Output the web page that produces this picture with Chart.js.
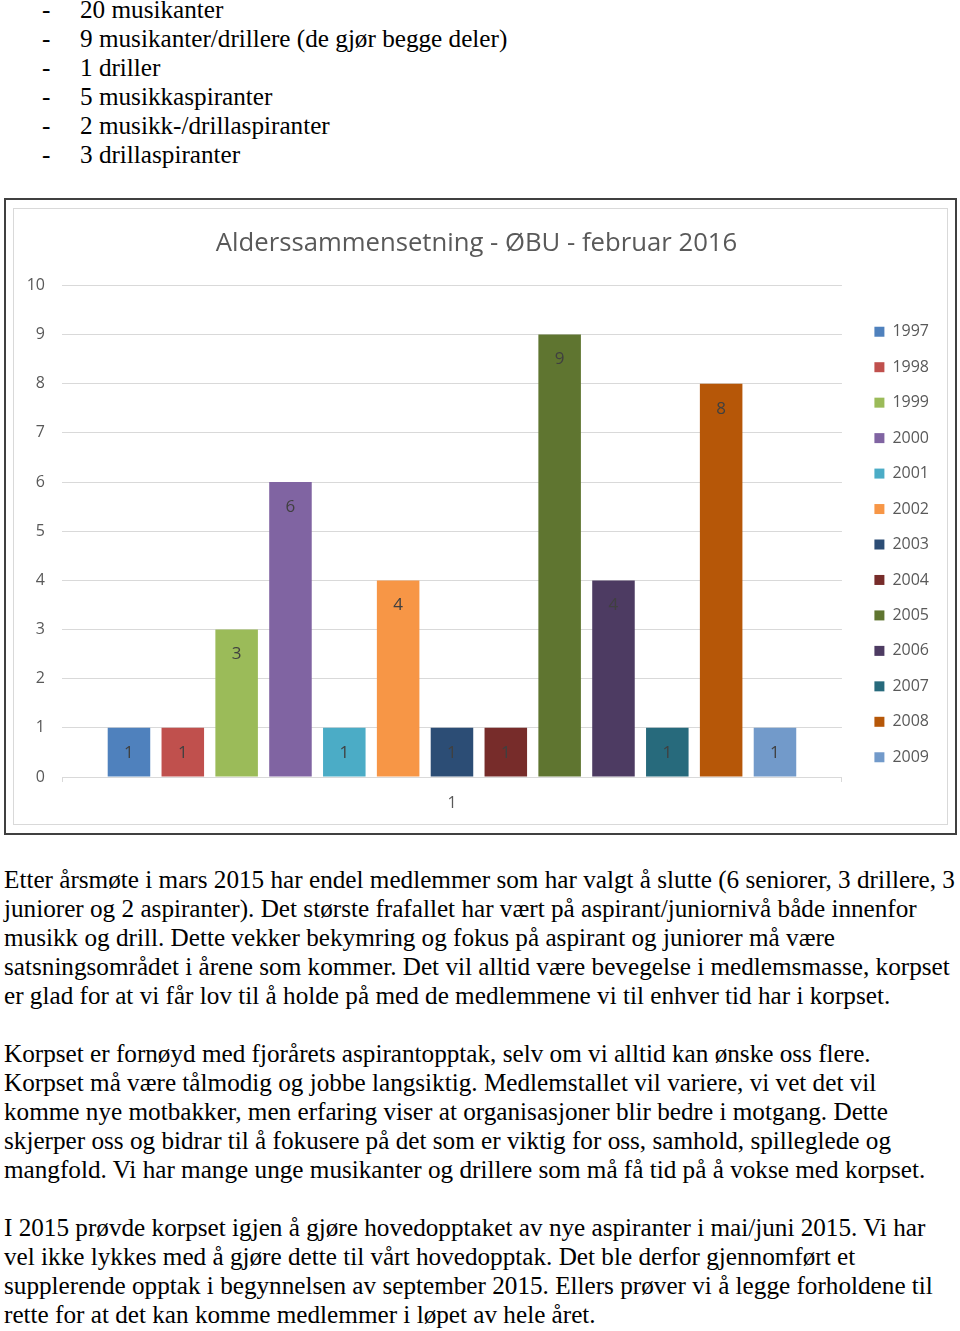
<!DOCTYPE html>
<html lang="no">
<head>
<meta charset="utf-8">
<title>Alderssammensetning - ØBU - februar 2016</title>
<script src="https://cdn.jsdelivr.net/npm/chart.js@4.4.1/dist/chart.umd.min.js"></script>
<style>
  html, body { margin: 0; padding: 0; background: #fff; }
  body { position: relative; width: 960px; height: 1331px; overflow: hidden; }
  .ln { position: absolute; white-space: pre; font-family: "Liberation Serif", "Times New Roman", serif;
        font-size: 25.2px; line-height: 29px; color: #000; }
  .dash { left: 42px; }
  .item { left: 80px; }
  .para { left: 4px; }
  #outer { position: absolute; left: 4px; top: 198px; width: 953px; height: 637px;
           box-sizing: border-box; border: 2px solid #404040; }
  #inner { position: absolute; left: 13px; top: 208px; width: 935px; height: 617px;
           box-sizing: border-box; border: 1px solid #d9d9d9; }
  #c { display: block; }
</style>
</head>
<body>
<div id="outer"></div>
<div id="inner"><canvas id="c" width="933" height="615"></canvas></div>
<script>
// ---- document text ----
const listItems = [
  "20 musikanter",
  "9 musikanter/drillere (de gjør begge deler)",
  "1 driller",
  "5 musikkaspiranter",
  "2 musikk-/drillaspiranter",
  "3 drillaspiranter"
];
const paragraphs = [
  [
    "Etter årsmøte i mars 2015 har endel medlemmer som har valgt å slutte (6 seniorer, 3 drillere, 3",
    "juniorer og 2 aspiranter). Det største frafallet har vært på aspirant/juniornivå både innenfor",
    "musikk og drill. Dette vekker bekymring og fokus på aspirant og juniorer må være",
    "satsningsområdet i årene som kommer. Det vil alltid være bevegelse i medlemsmasse, korpset",
    "er glad for at vi får lov til å holde på med de medlemmene vi til enhver tid har i korpset."
  ],
  [
    "Korpset er fornøyd med fjorårets aspirantopptak, selv om vi alltid kan ønske oss flere.",
    "Korpset må være tålmodig og jobbe langsiktig. Medlemstallet vil variere, vi vet det vil",
    "komme nye motbakker, men erfaring viser at organisasjoner blir bedre i motgang. Dette",
    "skjerper oss og bidrar til å fokusere på det som er viktig for oss, samhold, spilleglede og",
    "mangfold. Vi har mange unge musikanter og drillere som må få tid på å vokse med korpset."
  ],
  [
    "I 2015 prøvde korpset igjen å gjøre hovedopptaket av nye aspiranter i mai/juni 2015. Vi har",
    "vel ikke lykkes med å gjøre dette til vårt hovedopptak. Det ble derfor gjennomført et",
    "supplerende opptak i begynnelsen av september 2015. Ellers prøver vi å legge forholdene til",
    "rette for at det kan komme medlemmer i løpet av hele året."
  ]
];

// ---- chart data ----
const chartTitle = "Alderssammensetning - ØBU - februar 2016";
const categories = ["1"];
const seriesLabels = ["1997","1998","1999","2000","2001","2002","2003","2004","2005","2006","2007","2008","2009"];
const seriesValues = [1, 1, 3, 6, 1, 4, 1, 1, 9, 4, 1, 8, 1];
const seriesColors = ["#4F81BD","#C0504D","#9BBB59","#8064A2","#4BACC6","#F79646",
                      "#2C4D75","#772C2A","#5F7530","#4D3B62","#276A7C","#B65708","#729ACA"];
const yMin = 0, yMax = 10, yStep = 1;

// ---- build document text ----
(function () {
  const body = document.body;
  const LH = 29;
  listItems.forEach((t, i) => {
    const top = -5 + LH * i;
    const d = document.createElement('div');
    d.className = 'ln dash'; d.style.top = top + 'px'; d.textContent = '-';
    body.appendChild(d);
    const e = document.createElement('div');
    e.className = 'ln item'; e.style.top = top + 'px'; e.textContent = t;
    body.appendChild(e);
  });
  let top = 865;
  paragraphs.forEach((p) => {
    p.forEach((t) => {
      const e = document.createElement('div');
      e.className = 'ln para'; e.style.top = top + 'px'; e.textContent = t;
      body.appendChild(e);
      top += LH;
    });
    top += LH;
  });
})();

// ---- chart ----
const FONT = "'Open Sans', 'DejaVu Sans', sans-serif";
const TEXT = '#595959';
const GRID = '#d9d9d9';

const valueLabels = {
  id: 'valueLabels',
  afterDatasetsDraw(chart) {
    const ctx = chart.ctx;
    ctx.save();
    ctx.font = "17px " + FONT;
    ctx.fillStyle = '#404040';
    ctx.textAlign = 'center';
    ctx.textBaseline = 'middle';
    chart.data.datasets.forEach((ds, i) => {
      const meta = chart.getDatasetMeta(i);
      meta.data.forEach((el, j) => {
        ctx.fillText(String(ds.data[j]), el.x, el.y + 25);
      });
    });
    ctx.restore();
  }
};

new Chart(document.getElementById('c'), {
  type: 'bar',
  data: {
    labels: categories,
    datasets: seriesLabels.map((lab, i) => ({
      label: lab,
      data: [seriesValues[i]],
      backgroundColor: seriesColors[i],
      borderWidth: 0,
      categoryPercentage: 0.8973,
      barPercentage: 0.79
    }))
  },
  options: {
    responsive: false,
    animation: false,
    layout: { padding: { left: 0, right: 8, top: 0, bottom: 0 } },
    plugins: {
      tooltip: { enabled: false },
      title: {
        display: true,
        text: chartTitle,
        color: TEXT,
        font: { family: FONT, size: 25.7, weight: 'normal', lineHeight: 1.2 },
        padding: { top: 18.8, bottom: 26.8 }
      },
      legend: {
        position: 'right',
        align: 'center',
        title: { display: true, text: '', font: { size: 12, lineHeight: 1 }, padding: { top: 0, bottom: 44 } },
        labels: {
          boxWidth: 10,
          boxHeight: 10,
          padding: 19.46,
          color: TEXT,
          font: { family: FONT, size: 16 }
        }
      }
    },
    scales: {
      x: {
        type: 'category',
        grid: { display: true, drawOnChartArea: false, drawTicks: true, tickLength: 5, color: GRID, offset: true },
        border: { display: true, color: GRID },
        ticks: { color: TEXT, font: { family: FONT, size: 16 }, padding: 12 },
        afterFit: (s) => { s.height = 47; }
      },
      y: {
        min: yMin, max: yMax,
        ticks: { stepSize: yStep, color: TEXT, font: { family: FONT, size: 16 }, padding: 17 },
        grid: { color: GRID, drawTicks: false },
        border: { display: false },
        afterFit: (s) => { s.width = 48; }
      },
      gap: {
        type: 'linear',
        position: 'right',
        display: true,
        grid: { display: false, drawTicks: false },
        border: { display: false },
        ticks: { display: false },
        afterFit: (s) => { s.width = 13; }
      }
    }
  },
  plugins: [valueLabels]
});
</script>
</body>
</html>
